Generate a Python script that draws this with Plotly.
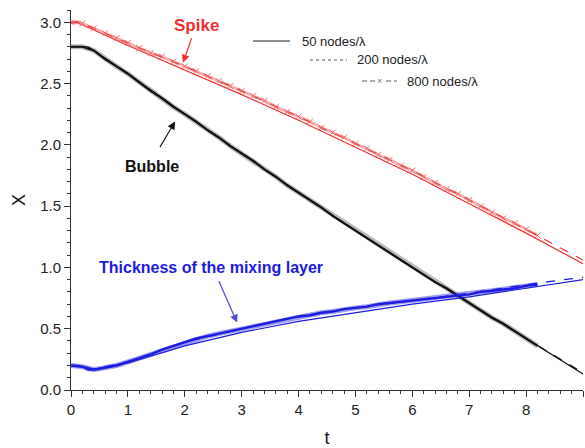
import plotly.graph_objects as go

# ---------------- data ----------------
# Spike (red)
t_spike = [0, 0.1, 1, 2, 3, 4, 5, 6, 7, 8, 9]
spike_50 = [2.99, 3.00, 2.81, 2.61, 2.41, 2.20, 1.98, 1.76, 1.52, 1.28, 1.03]
spike_200 = [3.00, 3.01, 2.83, 2.64, 2.44, 2.23, 2.01, 1.79, 1.55, 1.31, 1.06]

# Bubble (black)
t_bubble = [0, 0.3, 1, 2, 3, 4, 5, 6, 7, 8, 9]
bubble_50 = [2.80, 2.80, 2.58, 2.25, 1.93, 1.61, 1.30, 1.00, 0.71, 0.42, 0.13]
bubble_200 = [2.80, 2.80, 2.58, 2.25, 1.93, 1.61, 1.30, 1.00, 0.71, 0.42, 0.14]

# Thickness of the mixing layer (blue)
t_mix = [0, 0.15, 0.3, 1, 2, 3, 4, 5, 6, 7, 8, 9]
mix_50 = [0.20, 0.20, 0.16, 0.22, 0.36, 0.47, 0.56, 0.63, 0.70, 0.76, 0.83, 0.90]
mix_200 = [0.20, 0.20, 0.16, 0.23, 0.39, 0.50, 0.60, 0.67, 0.73, 0.79, 0.86, 0.92]

# 800 nodes/lambda runs (sampled every 0.2 up to t = 8.2)
t_800 = [0.0, 0.2, 0.4, 0.6, 0.8, 1.0, 1.2, 1.4, 1.6, 1.8, 2.0, 2.2, 2.4, 2.6,
         2.8, 3.0, 3.2, 3.4, 3.6, 3.8, 4.0, 4.2, 4.4, 4.6, 4.8, 5.0, 5.2, 5.4,
         5.6, 5.8, 6.0, 6.2, 6.4, 6.6, 6.8, 7.0, 7.2, 7.4, 7.6, 7.8, 8.0, 8.2]
spike_800 = [3.00, 2.99, 2.95, 2.91, 2.87, 2.83, 2.79, 2.75, 2.72, 2.68, 2.64,
             2.60, 2.56, 2.52, 2.48, 2.44, 2.40, 2.36, 2.31, 2.27, 2.23, 2.19,
             2.14, 2.10, 2.06, 2.01, 1.97, 1.92, 1.88, 1.83, 1.79, 1.74, 1.69,
             1.64, 1.60, 1.55, 1.50, 1.45, 1.40, 1.36, 1.31, 1.26]
bubble_800 = [2.80, 2.80, 2.77, 2.70, 2.64, 2.58, 2.51, 2.44, 2.38, 2.31, 2.25,
              2.19, 2.12, 2.06, 1.99, 1.93, 1.87, 1.80, 1.74, 1.67, 1.61, 1.55,
              1.49, 1.42, 1.36, 1.30, 1.24, 1.18, 1.12, 1.06, 1.00, 0.94, 0.88,
              0.83, 0.77, 0.71, 0.65, 0.59, 0.54, 0.48, 0.42, 0.36]
mix_800 = [0.20, 0.19, 0.165, 0.18, 0.20, 0.23, 0.26, 0.29, 0.33, 0.36, 0.39,
           0.42, 0.44, 0.46, 0.48, 0.50, 0.52, 0.54, 0.56, 0.58, 0.60, 0.61,
           0.63, 0.64, 0.66, 0.67, 0.68, 0.70, 0.71, 0.72, 0.73, 0.74, 0.75,
           0.76, 0.77, 0.78, 0.80, 0.81, 0.82, 0.83, 0.85, 0.86]

x_ticks = [0, 1, 2, 3, 4, 5, 6, 7, 8, 9]
y_ticks = [0.0, 0.5, 1.0, 1.5, 2.0, 2.5, 3.0]
legend_labels = ["50 nodes/λ", "200 nodes/λ", "800 nodes/λ"]

# ---------------- styles ----------------
RED = "#ee3030"
RED_LIGHT = "#f06a6a"
BLACK = "#111111"
BLUE = "#1c1ce0"
FONT = "Liberation Sans, Arial, sans-serif"

fig = go.Figure()


def line(x, y, color, width=1, dash="solid"):
    fig.add_trace(go.Scatter(x=x, y=y, mode="lines",
                             line=dict(color=color, width=width, dash=dash),
                             showlegend=False, hoverinfo="skip"))


# Spike
line(t_spike, spike_50, RED, 1.2)
line(t_spike, spike_200, RED, 1.2, "dash")
fig.add_trace(go.Scatter(x=t_800, y=spike_800, mode="lines+markers",
                         line=dict(color="rgba(240,80,80,0.45)", width=3),
                         marker=dict(symbol="x-thin", size=6,
                                     line=dict(color=RED_LIGHT, width=1)),
                         showlegend=False, hoverinfo="skip"))

# Bubble
line(t_bubble, bubble_50, BLACK, 1.2)
line(t_bubble, bubble_200, BLACK, 1.2, "dash")
fig.add_trace(go.Scatter(x=t_800, y=bubble_800, mode="lines",
                         line=dict(color="rgba(60,60,60,0.35)", width=5),
                         showlegend=False, hoverinfo="skip"))
line(t_800, bubble_800, BLACK, 2.2)

# Mixing layer thickness
line(t_mix, mix_50, BLUE, 1.2)
line(t_mix, mix_200, BLUE, 1.3, "dash")
fig.add_trace(go.Scatter(x=t_800, y=mix_800, mode="lines",
                         line=dict(color="rgba(40,40,220,0.45)", width=5),
                         showlegend=False, hoverinfo="skip"))
line(t_800, mix_800, BLUE, 2.4)


def px_x(p):
    return (p - 71) / 512


def px_y(p):
    return (390 - p) / 380


# ---------------- annotations ----------------
ann = []
ann.append(dict(x=1.97, y=2.67, xref="x", yref="y", text="", showarrow=True,
                ax=9, ay=-26, arrowcolor=RED, arrowwidth=1.2, arrowhead=2,
                arrowsize=1.3))
ann.append(dict(x=px_x(196), y=px_y(25), xref="paper", yref="paper",
                xanchor="center", yanchor="middle",
                text="<b>Spike</b>", showarrow=False,
                font=dict(family=FONT, size=17, color=RED)))
ann.append(dict(x=1.83, y=2.19, xref="x", yref="y", text="", showarrow=True,
                ax=-16, ay=27, arrowcolor=BLACK, arrowwidth=1.2, arrowhead=2,
                arrowsize=1.3))
ann.append(dict(x=px_x(152), y=px_y(166), xref="paper", yref="paper",
                xanchor="center", yanchor="middle",
                text="<b>Bubble</b>", showarrow=False,
                font=dict(family=FONT, size=16, color=BLACK)))
ann.append(dict(x=2.92, y=0.55, xref="x", yref="y", text="", showarrow=True,
                ax=-19, ay=-43, arrowcolor="#4a4ad8", arrowwidth=1.2, arrowhead=2,
                arrowsize=1.3))
ann.append(dict(x=px_x(97), y=px_y(267), xref="paper", yref="paper",
                xanchor="left", yanchor="middle",
                text="<b>Thickness of the mixing layer</b>", showarrow=False,
                font=dict(family=FONT, size=16, color=BLUE)))

# custom staggered legend
leg = [  # (line x0, line x1, y, text x)
    (253, 290, 41, 300),
    (310, 347, 60, 355),
    (362, 397, 81, 405),
]
shapes = []
dashes = ["solid", "3px,3px", "5px,3px"]
for (x0, x1, yy, tx), lab, d in zip(leg, legend_labels, dashes):
    shapes.append(dict(type="line", xref="paper", yref="paper",
                       x0=px_x(x0), x1=px_x(x1), y0=px_y(yy), y1=px_y(yy),
                       line=dict(color="#222222" if d == "solid" else "#555555",
                                 width=1, dash=d)))
    ann.append(dict(x=px_x(tx), y=px_y(yy), xref="paper", yref="paper",
                    xanchor="left", yanchor="middle", text=lab, showarrow=False,
                    font=dict(family=FONT, size=13, color="#222222")))
ann.append(dict(x=px_x(379.5), y=px_y(81), xref="paper", yref="paper",
                xanchor="center", yanchor="middle",
                text="×", showarrow=False, bgcolor="white",
                font=dict(family=FONT, size=9, color="#777777")))

fig.update_layout(
    width=585, height=448,
    margin=dict(l=71, r=2, t=10, b=58),
    paper_bgcolor="white", plot_bgcolor="white",
    font=dict(family=FONT, size=15, color="#222222"),
    annotations=ann, shapes=shapes,
    xaxis=dict(range=[0, 9], tickvals=x_ticks, ticktext=[str(v) for v in x_ticks],
               showgrid=False, zeroline=False, showline=True, linecolor="#333333",
               linewidth=1, ticks="outside", ticklen=6, tickcolor="#333333",
               tickfont=dict(size=15, color="#222222"),
               minor=dict(dtick=0.2, ticks="outside", ticklen=3, tickcolor="#333333",
                          showgrid=False),
               title=dict(text="t", font=dict(size=18, color="#111111"), standoff=14)),
    yaxis=dict(range=[0, 3.1], tickvals=y_ticks, ticktext=[f"{v:.1f}" for v in y_ticks],
               showgrid=False, zeroline=False, showline=True, linecolor="#333333",
               linewidth=1, ticks="outside", ticklen=6, tickcolor="#333333",
               tickfont=dict(size=15, color="#222222"),
               minor=dict(dtick=0.1, ticks="outside", ticklen=3, tickcolor="#333333",
                          showgrid=False),
               title=dict(text="X", font=dict(size=18, color="#111111"), standoff=9)),
)

fig.write_html("out.html")
